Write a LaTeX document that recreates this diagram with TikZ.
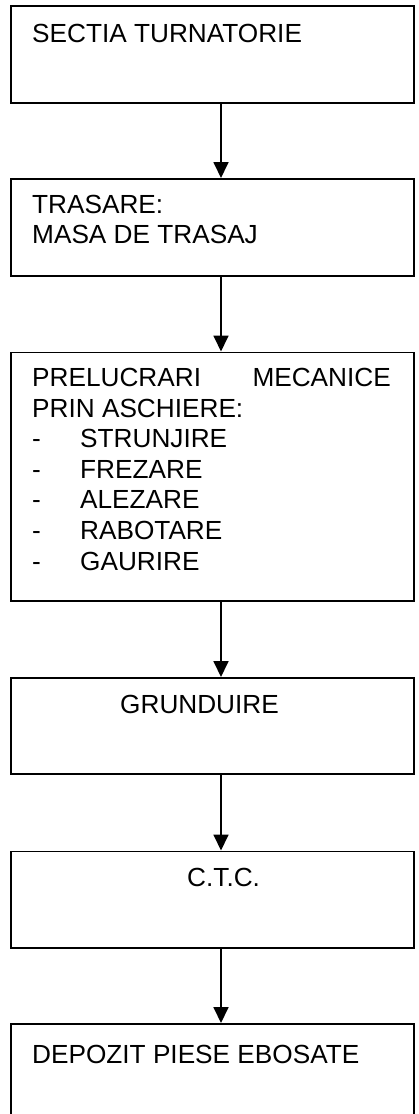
\documentclass[tikz,border=0pt]{standalone}
\usepackage{fontspec}
\setmainfont{Liberation Sans}
\usetikzlibrary{positioning}
\usetikzlibrary{arrows.meta}

\tikzset{
  box/.style={draw, line width=1.6pt, minimum width=403pt, inner sep=0pt, anchor=north west},
  txt/.style={anchor=base west, inner sep=0pt, font=\fontsize{26.2}{30.3}\selectfont},
  flow/.style={line width=1.8pt, -{Triangle[width=15pt,length=16pt]}}
}

\begin{document}
\begin{tikzpicture}[x=1pt,y=-1pt]

\useasboundingbox (0,0) rectangle (419,1114);
\clip (0,0) rectangle (419,1114);
\coordinate (axis) at (221,0);

    \node[box, minimum height=97pt] (sectia) at (10,5) {};
    \node[box, minimum height=97pt] (trasare) at (10,178) {};
    \node[box, minimum height=248.5pt] (prelucrari) at (10,351.5) {};
    \node[box, minimum height=96pt] (grunduire) at (10,677) {};
    \node[box, minimum height=96.5pt] (ctc) at (10,850.5) {};
    \node[box, minimum height=110pt] (depozit) at (10,1023) {};

    \node[txt] (sectia-t) at (32,42) {SECTIA TURNATORIE};
    \node[txt] (trasare-t1) at (32,213) {TRASARE:};
    \node[txt] (trasare-t2) at (32,243.3) {MASA DE TRASAJ};
    \node[txt] (prelucrari-t1) at (32,386.7) {PRELUCRARI};
    \node[txt, anchor=base east] (prelucrari-t2) at (391,386.7) {MECANICE};
    \node[txt] (prelucrari-t3) at (32,417) {PRIN ASCHIERE:};
\foreach \op [count=\i] in {STRUNJIRE,FREZARE,ALEZARE,RABOTARE,GAURIRE}
{
    \node[txt] (dash-\i) at (32,417+30.6*\i) {-};
    \node[txt] (op-\i) at (80,417+30.6*\i) {\op};
}
    \node[txt] (grunduire-t) at (120,713) {GRUNDUIRE};
    \node[txt] (ctc-t) at (187,886) {C.T.C.};
    \node[txt] (depozit-t) at (32,1063.3) {DEPOZIT PIESE EBOSATE};

    \draw[flow] (sectia.south -| axis) -- (trasare.north -| axis);
    \draw[flow] (trasare.south -| axis) -- (prelucrari.north -| axis);
    \draw[flow] (prelucrari.south -| axis) -- (grunduire.north -| axis);
    \draw[flow] (grunduire.south -| axis) -- (ctc.north -| axis);
    \draw[flow] (ctc.south -| axis) -- (depozit.north -| axis);

\end{tikzpicture}
\end{document}
